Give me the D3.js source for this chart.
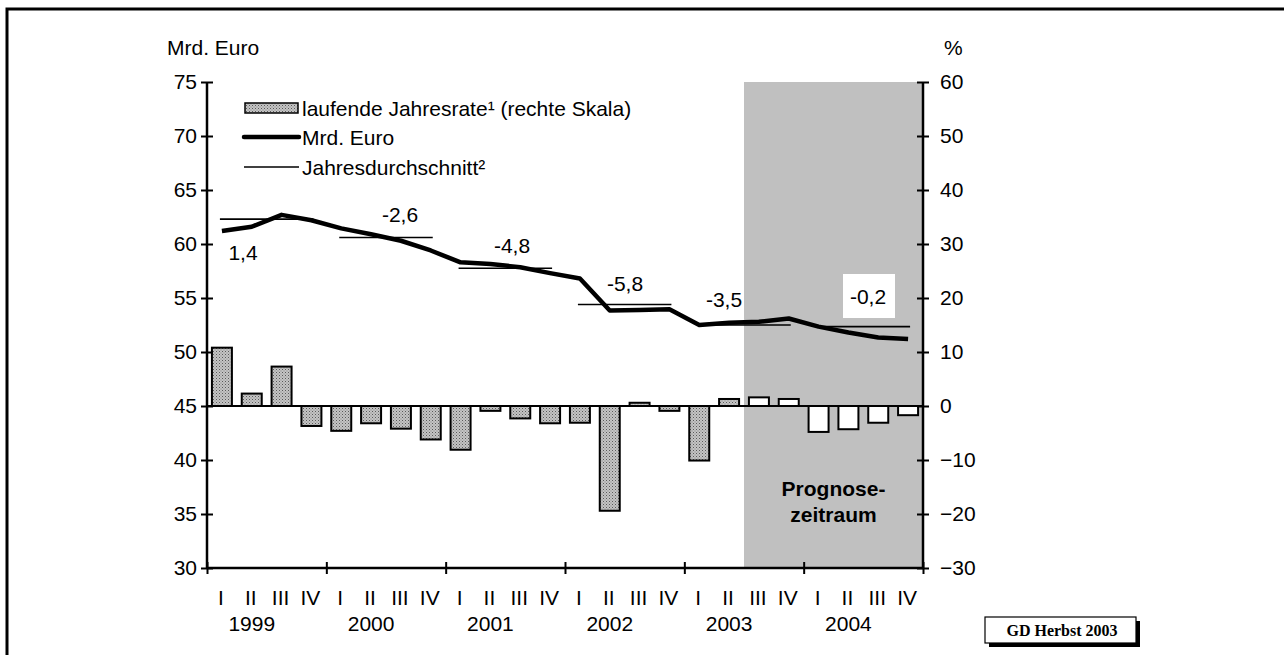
<!DOCTYPE html>
<html><head><meta charset="utf-8">
<script src="https://cdn.jsdelivr.net/npm/d3@7"></script>
<style>
body{margin:0;background:#fff;}
svg{font-family:"Liberation Sans",Arial,sans-serif;}
</style></head><body>
<svg id="c" width="1284" height="655"></svg>
<script>
const quarters = ["I","II","III","IV"];
const years = ["1999","2000","2001","2002","2003","2004"];
const levelMrd = [61.2,61.6,62.7,62.2, 61.45,60.9,60.3,59.4, 58.3,58.15,57.85,57.3, 56.8,53.85,53.9,53.95, 52.5,52.7,52.8,53.1, 52.35,51.8,51.35,51.2];
const rateAnnualized = [10.8,2.3,7.3,-3.7, -4.6,-3.2,-4.2,-6.2, -8.1,-0.9,-2.3,-3.2, -3.1,-19.4,0.6,-0.9, -10.1,1.3,1.6,1.3, -4.8,-4.3,-3.1,-1.7];
const annualAvg = [62.3,60.6,57.75,54.4,52.5,52.35];
const annualChangeLabels = ["1,4","-2,6","-4,8","-5,8","-3,5","-0,2"];
const forecastStartIndex = 18;
const leftTicks = [30,35,40,45,50,55,60,65,70,75];
const rightTicks = [-30,-20,-10,0,10,20,30,40,50,60];

const FS = 21;
const svg = d3.select("#c");
const L=207, R=923, T=82, B=568;

// defs pattern
const defs = svg.append("defs");
const pat = defs.append("pattern").attr("id","dots").attr("width",3).attr("height",3).attr("patternUnits","userSpaceOnUse");
pat.append("rect").attr("width",3).attr("height",3).attr("fill","#c4c4c4");
pat.append("rect").attr("x",0).attr("y",0).attr("width",1).attr("height",1).attr("fill","#5a5a5a");
pat.append("rect").attr("x",1.5).attr("y",1.5).attr("width",1).attr("height",1).attr("fill","#808080");

// outer frame
svg.append("path").attr("d","M7,660 L7,9 L1290,9").attr("fill","none").attr("stroke","#000").attr("stroke-width",3);

const idx = d3.range(levelMrd.length);
const x = d3.scaleBand().domain(idx).range([L,R]).paddingInner(0.33).paddingOuter(0.165);
const xq = d3.scaleLinear().domain([0,24]).range([L,R]);
const yL = d3.scaleLinear().domain([30,75]).range([B,T]);
const yR = d3.scaleLinear().domain([-30,60]).range([B,T]);
const cx = i => xq(i+0.5);

// forecast shading
svg.append("rect").attr("x",xq(forecastStartIndex)).attr("y",T).attr("width",R-xq(forecastStartIndex)).attr("height",B-T).attr("fill","#c0c0c0");

// zero line
svg.append("line").attr("x1",L).attr("x2",R).attr("y1",yR(0)).attr("y2",yR(0)).attr("stroke","#000").attr("stroke-width",2);

// bars
svg.append("g").selectAll("rect").data(rateAnnualized).join("rect")
  .attr("x",(d,i)=>x(i)).attr("width",x.bandwidth())
  .attr("y",d=>yR(Math.max(0,d))).attr("height",d=>Math.abs(yR(d)-yR(0)))
  .attr("fill",(d,i)=> i>=forecastStartIndex ? "#fff" : "url(#dots)")
  .attr("stroke","#000").attr("stroke-width",2);

// annual average lines
svg.append("g").selectAll("line").data(annualAvg).join("line")
  .attr("x1",(d,i)=>cx(i*4)-2).attr("x2",(d,i)=>cx(i*4+3)+2)
  .attr("y1",d=>yL(d)).attr("y2",d=>yL(d))
  .attr("stroke","#000").attr("stroke-width",1.6);

// main line
svg.append("path").datum(levelMrd)
  .attr("d", d3.line().x((d,i)=>cx(i)).y(d=>yL(d)))
  .attr("fill","none").attr("stroke","#000").attr("stroke-width",4.5).attr("stroke-linejoin","round");

// annual change labels
const labPos = [[243,252],[400,214],[512,245],[625,283],[724,299],[868,296]];
annualChangeLabels.forEach((t,i)=>{
  if(i===5){
    svg.append("rect").attr("x",843).attr("y",274).attr("width",52).attr("height",44).attr("fill","#fff");
  }
  svg.append("text").attr("x",labPos[i][0]).attr("y",labPos[i][1]+7.5).attr("text-anchor","middle")
    .attr("font-size",FS).text(t);
});

// axes
function styleText(g){ g.selectAll("text").attr("font-size",FS).attr("font-family","Liberation Sans, Arial, sans-serif").attr("fill","#000"); }
const axL = svg.append("g").attr("transform",`translate(${L},0)`)
  .call(d3.axisLeft(yL).tickValues(leftTicks).tickSize(6).tickPadding(4).tickFormat(d3.format("d")));
axL.selectAll(".tick line").attr("x1",6).attr("x2",-6).attr("stroke-width",2);
axL.select(".domain").attr("d",`M0,${T}V${B}`).attr("stroke-width",2.5);
styleText(axL);

const axR = svg.append("g").attr("transform",`translate(${R},0)`)
  .call(d3.axisRight(yR).tickValues(rightTicks).tickSize(6).tickPadding(11).tickFormat(d3.format("d")));
axR.selectAll(".tick line").attr("x1",6).attr("x2",-6).attr("stroke-width",2);
axR.select(".domain").attr("d",`M0,${T}V${B}`).attr("stroke-width",2.5);
styleText(axR);

const axB = svg.append("g").attr("transform",`translate(0,${B})`)
  .call(d3.axisBottom(xq).tickValues(d3.range(0,25,4)).tickSize(6).tickFormat(""));
axB.selectAll(".tick line").attr("y1",-6).attr("y2",6).attr("stroke-width",2);
axB.select(".domain").attr("d",`M${L},0H${R}`).attr("stroke-width",2.5);

// quarter & year labels
svg.append("g").selectAll("text").data(idx).join("text")
  .attr("x",i=>cx(i)-1).attr("y",605).attr("text-anchor","middle").attr("font-size",FS)
  .text(i=>quarters[i%4]);
svg.append("g").selectAll("text").data(years).join("text")
  .attr("x",(d,i)=>xq(i*4+1.5)).attr("y",631).attr("text-anchor","middle").attr("font-size",FS)
  .text(d=>d);

// axis titles
svg.append("text").attr("x",167).attr("y",55).attr("font-size",FS).text("Mrd. Euro");
svg.append("text").attr("x",944).attr("y",55).attr("font-size",FS).text("%");

// legend
svg.append("rect").attr("x",245).attr("y",103).attr("width",53).attr("height",10).attr("fill","url(#dots)").attr("stroke","#000").attr("stroke-width",1.5);
svg.append("text").attr("x",302).attr("y",116).attr("font-size",FS).text("laufende Jahresrate¹ (rechte Skala)");
svg.append("line").attr("x1",244).attr("x2",299).attr("y1",137).attr("y2",137).attr("stroke","#000").attr("stroke-width",4.5).attr("stroke-linecap","round");
svg.append("text").attr("x",302).attr("y",145).attr("font-size",FS).text("Mrd. Euro");
svg.append("line").attr("x1",244).attr("x2",299).attr("y1",167).attr("y2",167).attr("stroke","#000").attr("stroke-width",1.6);
svg.append("text").attr("x",302).attr("y",175).attr("font-size",FS).text("Jahresdurchschnitt²");

// forecast label
const fx = (xq(forecastStartIndex)+R)/2;
svg.append("text").attr("x",fx).attr("y",496).attr("text-anchor","middle").attr("font-size",FS).attr("font-weight","bold").text("Prognose-");
svg.append("text").attr("x",fx).attr("y",522).attr("text-anchor","middle").attr("font-size",FS).attr("font-weight","bold").text("zeitraum");

// source box
svg.append("rect").attr("x",989).attr("y",621).attr("width",151).attr("height",26).attr("fill","#000");
svg.append("rect").attr("x",985).attr("y",617).attr("width",151).attr("height",26).attr("fill","#fff").attr("stroke","#000").attr("stroke-width",1.2);
svg.append("text").attr("x",1062).attr("y",636).attr("text-anchor","middle").attr("font-size",16).attr("font-weight","bold")
  .attr("font-family","Liberation Serif, Times New Roman, serif").text("GD Herbst 2003");
</script>
</body></html>
